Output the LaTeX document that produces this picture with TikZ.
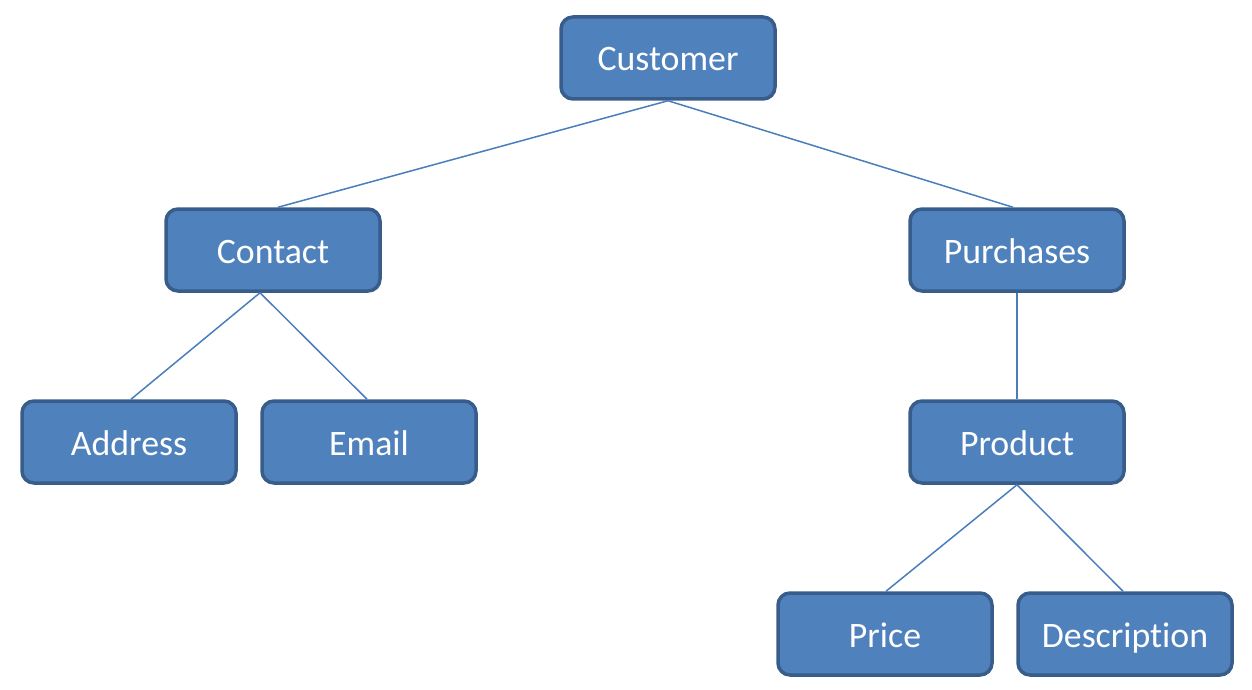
\documentclass[tikz,border=0pt]{standalone}
\usepackage{fontspec}
\setmainfont{Carlito}[Ligatures={NoCommon}]
\definecolor{boxfill}{HTML}{4F81BD}
\definecolor{boxline}{HTML}{385D8A}
\definecolor{conn}{HTML}{4A7EBB}
\begin{document}
\begin{tikzpicture}[x=1pt,y=-1pt,
  box/.style={draw=boxline, line width=3.5pt, fill=boxfill, rounded corners=12pt,
    minimum width=214pt, minimum height=82pt, inner sep=0pt},
  lbl/.style={text=white, font=\fontsize{35.8}{40}\selectfont, inner sep=0pt, anchor=base},
  link/.style={draw=conn, line width=1.5pt}]
\useasboundingbox (0,0) rectangle (1252,690);
\node[box] (customer) at (668,58) {};
\node[box] (contact) at (273,250) {};
\node[box] (purchases) at (1017,250) {};
\node[box] (address) at (129,442) {};
\node[box] (email) at (369,442) {};
\node[box] (product) at (1017,442) {};
\node[box] (price) at (885,634) {};
\node[box] (description) at (1125,634) {};
\node[lbl] (tcustomer) at ([yshift=-13pt]customer.center) {Customer};
\node[lbl] (tcontact) at ([yshift=-13pt]contact.center) {Contact};
\node[lbl] (tpurchases) at ([yshift=-13pt]purchases.center) {Purchases};
\node[lbl] (taddress) at ([yshift=-13pt]address.center) {Address};
\node[lbl] (temail) at ([yshift=-13pt]email.center) {Email};
\node[lbl] (tproduct) at ([yshift=-13pt]product.center) {Product};
\node[lbl] (tprice) at ([yshift=-13pt]price.center) {Price};
\node[lbl] (tdescription) at ([yshift=-13pt]description.center) {Description};
\draw[link] (customer.south) -- ([xshift=5pt]contact.north);
\draw[link] (customer.south) -- ([xshift=-4pt]purchases.north);
\draw[link] ([xshift=-13pt]contact.south) -- ([xshift=2pt]address.north);
\draw[link] ([xshift=-13pt]contact.south) -- ([xshift=-2pt]email.north);
\draw[link] (purchases.south) -- (product.north);
\draw[link] (product.south) -- ([xshift=1pt]price.north);
\draw[link] (product.south) -- ([xshift=-2pt]description.north);
\end{tikzpicture}
\end{document}
